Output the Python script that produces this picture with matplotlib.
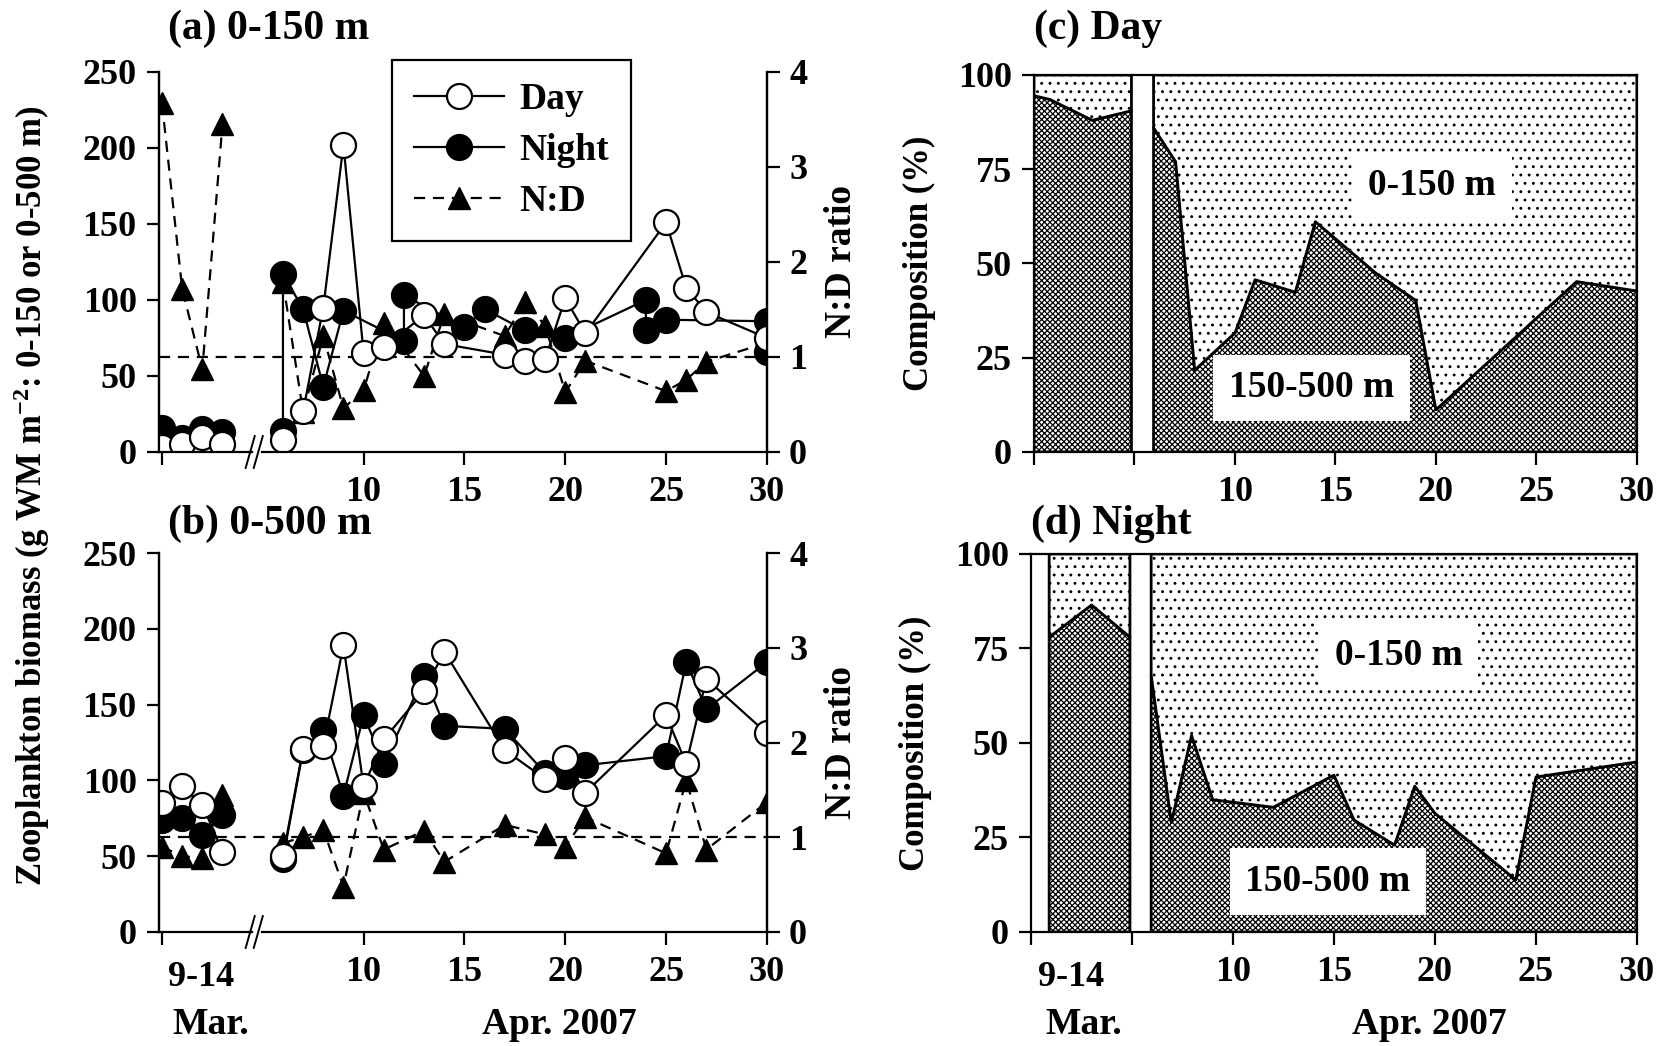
import matplotlib
matplotlib.use("Agg")
import matplotlib.pyplot as plt
from matplotlib.lines import Line2D
from matplotlib.transforms import blended_transform_factory

plt.rcParams['font.family'] = ['Liberation Serif', 'DejaVu Serif']
plt.rcParams['font.weight'] = 'bold'
plt.rcParams['font.size'] = 26
plt.rcParams['mathtext.fontset'] = 'custom'
plt.rcParams['mathtext.rm'] = 'Liberation Serif:bold'
plt.rcParams['mathtext.bf'] = 'Liberation Serif:bold'
plt.rcParams['mathtext.it'] = 'Liberation Serif:bold'
plt.rcParams['hatch.linewidth'] = 0.9

# ---- (a) 0-150 m ----
mar_x = [0, 1, 2, 3]
a_day_mar = [3, 5.5, 10, 5]
a_night_mar = [16, 9.5, 15, 13]
a_ratio_mar = [3.67, 1.72, 0.87, 3.45]

a_day_x = [6, 7, 8, 9, 10, 11, 13, 14, 17, 18, 19, 20, 21, 25, 26, 27, 30]
a_day_y = [8, 27, 95, 202, 65, 69, 90, 71, 64, 60, 61, 101, 78, 151, 108, 92, 75]
a_night_x = [6, 6, 7, 8, 9, 12, 12, 15, 16, 18, 20, 24, 24, 25, 30, 30]
a_night_y = [14, 117, 94, 43, 93, 73, 103, 82, 94, 80, 75, 100, 80, 87, 86, 66]
a_ratio_x = [6, 7, 8, 9, 10, 11, 13, 14, 17, 18, 19, 20, 21, 25, 26, 27, 30]
a_ratio_y = [1.79, 0.42, 1.22, 0.46, 0.65, 1.36, 0.8, 1.45, 1.22, 1.58, 1.33,
             0.63, 0.96, 0.64, 0.76, 0.95, 1.15]

# ---- (b) 0-500 m ----
b_day_mar = [85, 96, 84, 53]
b_night_mar = [74, 75, 64, 77]
b_ratio_mar = [0.9, 0.8, 0.78, 1.45]

b_x = [6, 7, 8, 9, 10, 11, 13, 14, 17, 19, 20, 21, 25, 26, 27, 30]
b_day_y = [50, 121, 123, 189, 96, 127, 159, 185, 120, 101, 115, 92, 143, 111, 167, 131]
b_night_y = [48, 120, 133, 90, 143, 111, 169, 136, 134, 105, 103, 110, 116, 178, 147, 178]
b_ratio_y = [0.94, 1.0, 1.08, 0.48, 1.47, 0.87, 1.07, 0.74, 1.13, 1.03, 0.9,
             1.21, 0.83, 1.6, 0.87, 1.37]

# ---- (c) Day composition, % in 150-500 m ----
c_mar_x = [0, 0.8, 2.9, 4.85]
c_mar_y = [94.5, 93.5, 88, 90.5]
c_apr_x = [5.95, 7.05, 8, 10, 11, 13, 14, 17, 19, 20, 27, 30]
c_apr_y = [86, 77, 21.7, 31.6, 45.7, 42.4, 61.1, 47.5, 40.2, 11.2, 45.2, 42.7]

# ---- (d) Night composition, % in 150-500 m ----
d_mar_x = [0.9, 3.0, 4.9]
d_mar_y = [78, 86.5, 78]
d_apr_x = [5.95, 6.95, 7.95, 9, 12, 15, 16, 18, 19, 20, 24, 25, 30]
d_apr_y = [68, 29, 52, 35, 33, 41.5, 29.6, 23, 38.6, 31.4, 13.8, 41, 45]

x_ticks = [0, 10, 15, 20, 25, 30]
x_labels = ['', '10', '15', '20', '25', '30']

LW = 1.6
DASH = (0, (5, 3.5))
circ = dict(marker='o', markersize=18, markeredgewidth=1.6, color='black', lw=LW)
tri = dict(marker='^', markersize=16, color='black', lw=LW, ls=DASH)


def style_ticks(ax):
    ax.tick_params(direction='out', length=9, width=1.6, labelsize=26)
    ax.tick_params(axis='x', pad=8)
    ax.tick_params(axis='y', pad=7)
    for sp in ax.spines.values():
        sp.set_linewidth(LW)


def biomass_panel(ax, day_mar, night_mar, ratio_mar, day_x, day_y,
                  night_x, night_y, ratio_x, ratio_y, title, title_y):
    ax2 = ax.twinx()
    ax.set_zorder(ax2.get_zorder() + 1)
    ax.patch.set_visible(False)

    ax2.axhline(1, color='black', lw=LW, ls=DASH)
    ax2.plot(mar_x, ratio_mar, **tri)
    ax2.plot(ratio_x, ratio_y, **tri)
    ax2.set_ylim(0, 4)
    ax2.set_yticks([0, 1, 2, 3, 4])
    ax2.spines['top'].set_visible(False)
    ax2.spines['bottom'].set_visible(False)
    style_ticks(ax2)
    ax2.text(1.122, 0.5, 'N:D ratio', rotation=90, ha='center', va='center',
             transform=ax.transAxes, fontsize=27)

    ax.plot(mar_x, night_mar, markerfacecolor='black', **circ)
    ax.plot(night_x, night_y, markerfacecolor='black', **circ)
    ax.plot(mar_x, day_mar, markerfacecolor='white', **circ)
    ax.plot(day_x, day_y, markerfacecolor='white', **circ)

    ax.set_xlim(-0.15, 30)
    ax.set_ylim(0, 250)
    ax.set_yticks([0, 50, 100, 150, 200, 250])
    ax.set_xticks(x_ticks)
    ax.set_xticklabels(x_labels)
    ax.spines['top'].set_visible(False)
    ax.spines['bottom'].set_visible(False)
    style_ticks(ax)

    # broken x axis
    tr = ax.get_xaxis_transform()
    ax.plot([-0.15, 4.45], [0, 0], color='black', lw=LW, transform=tr, clip_on=False)
    ax.plot([4.95, 30], [0, 0], color='black', lw=LW, transform=tr, clip_on=False)
    ax.plot([4.15, 4.6], [-0.042, 0.042], color='black', lw=1.4, transform=tr, clip_on=False)
    ax.plot([4.55, 5.0], [-0.042, 0.042], color='black', lw=1.4, transform=tr, clip_on=False)

    ax.text(0.015, title_y, title, transform=ax.transAxes, ha='left', va='center',
            fontsize=30)
    return ax2


def comp_panel(ax, segments, title, title_y, top_lab, bot_lab):
    for xs, ys in segments:
        ax.fill_between(xs, 0, ys, facecolor='white', edgecolor='black',
                        hatch='xxxxxx', lw=2.0)
        ax.fill_between(xs, ys, 100, facecolor='white', edgecolor='black',
                        hatch='..', lw=2.0)
    box = dict(boxstyle='square,pad=0.42', facecolor='white', edgecolor='none')
    ax.text(top_lab[0], top_lab[1], '0-150 m', ha='center', va='center', bbox=box,
            fontsize=27)
    ax.text(bot_lab[0], bot_lab[1], '150-500 m', ha='center', va='center', bbox=box,
            fontsize=27)
    ax.set_xlim(0, 30)
    ax.set_ylim(0, 100)
    ax.set_xticks([0, 5, 10, 15, 20, 25, 30])
    ax.set_xticklabels(['', '', '10', '15', '20', '25', '30'])
    ax.set_yticks([0, 25, 50, 75, 100])
    style_ticks(ax)
    ax.text(-0.19, 0.5, 'Composition (%)', rotation=90, ha='center', va='center',
            transform=ax.transAxes, fontsize=25)
    ax.text(0.0, title_y, title, transform=ax.transAxes, ha='left', va='center',
            fontsize=30)


def date_labels(ax, mar_pos):
    tr = blended_transform_factory(ax.transData, ax.transAxes)
    ax.text(mar_pos[0], -0.12, '9-14', transform=tr, ha='center', va='center')
    ax.text(mar_pos[1], -0.245, 'Mar.', transform=tr, ha='center', va='center',
            fontsize=27)
    ax.text(19.7, -0.245, 'Apr. 2007', transform=tr, ha='center', va='center',
            fontsize=27)


fig = plt.figure(figsize=(16.61, 10.46), dpi=100)
ax_a = fig.add_axes([0.0957, 0.5679, 0.366, 0.3633])
ax_b = fig.add_axes([0.0957, 0.1090, 0.366, 0.3623])
ax_c = fig.add_axes([0.6225, 0.5679, 0.3630, 0.3604])
ax_d = fig.add_axes([0.6207, 0.1090, 0.3648, 0.3614])

biomass_panel(ax_a, a_day_mar, a_night_mar, a_ratio_mar, a_day_x, a_day_y,
              a_night_x, a_night_y, a_ratio_x, a_ratio_y, '(a) 0-150 m', 1.114)
biomass_panel(ax_b, b_day_mar, b_night_mar, b_ratio_mar, b_x, b_day_y,
              b_x, b_night_y, b_x, b_ratio_y, '(b) 0-500 m', 1.077)
date_labels(ax_b, (1.95, 2.4))

handles = [
    Line2D([], [], markerfacecolor='white', **circ),
    Line2D([], [], markerfacecolor='black', **circ),
    Line2D([], [], **tri),
]
leg = ax_a.legend(handles, ['Day', 'Night', 'N:D'], loc='upper left',
                  bbox_to_anchor=(0.383, 1.032), frameon=True, fancybox=False,
                  edgecolor='black', framealpha=1, handlelength=2.4,
                  labelspacing=0.42, borderpad=0.6, handletextpad=0.4,
                  borderaxespad=0, fontsize=27)
leg.get_frame().set_linewidth(LW)

comp_panel(ax_c, [(c_mar_x, c_mar_y), (c_apr_x, c_apr_y)], '(c) Day', 1.122,
           (19.8, 70.8), (13.8, 17))
comp_panel(ax_d, [(d_mar_x, d_mar_y), (d_apr_x, d_apr_y)], '(d) Night', 1.08,
           (18.2, 73.1), (14.7, 13.3))
date_labels(ax_d, (2.0, 2.6))

fig.text(0.0192, 0.526, 'Zooplankton biomass (g WM m$^{-2}$: 0-150 or 0-500 m)',
         rotation=90, ha='center', va='center', fontsize=25)

fig.savefig('out.png', dpi=100)
